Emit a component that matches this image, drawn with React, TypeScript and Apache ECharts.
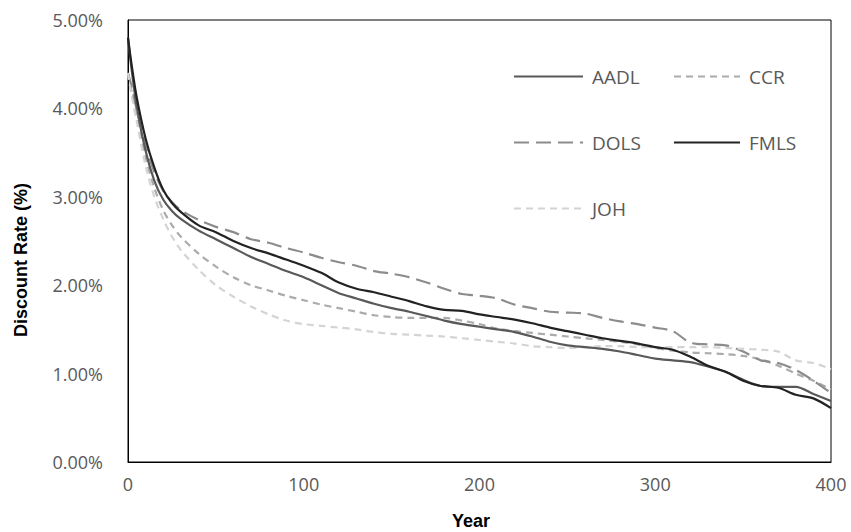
import React, { useEffect, useRef } from 'react';
import * as echarts from 'echarts';

const years = [0, 2, 5, 10, 15, 20, 25, 30, 40, 50, 60, 70, 80, 90, 100, 110, 120, 130, 140, 150, 160, 170, 180, 190, 200, 210, 220, 230, 240, 250, 260, 270, 280, 290, 300, 310, 320, 330, 340, 350, 360, 370, 380, 390, 400];

const aadl = [4.80, 4.45, 4.02, 3.52, 3.18, 2.97, 2.84, 2.75, 2.62, 2.52, 2.42, 2.32, 2.24, 2.16, 2.09, 2.00, 1.91, 1.85, 1.79, 1.74, 1.70, 1.65, 1.60, 1.56, 1.53, 1.50, 1.47, 1.42, 1.36, 1.32, 1.30, 1.28, 1.25, 1.21, 1.17, 1.15, 1.13, 1.08, 1.02, 0.93, 0.86, 0.85, 0.85, 0.77, 0.69];
const ccr = [4.40, 4.20, 3.90, 3.45, 3.10, 2.85, 2.68, 2.55, 2.36, 2.21, 2.09, 2.00, 1.94, 1.88, 1.83, 1.78, 1.74, 1.70, 1.66, 1.64, 1.63, 1.63, 1.63, 1.60, 1.56, 1.51, 1.48, 1.46, 1.44, 1.42, 1.40, 1.38, 1.36, 1.33, 1.29, 1.26, 1.24, 1.23, 1.22, 1.20, 1.16, 1.09, 1.00, 0.92, 0.82];
const dols = [4.40, 4.25, 3.98, 3.58, 3.28, 3.07, 2.94, 2.85, 2.74, 2.66, 2.60, 2.52, 2.48, 2.42, 2.37, 2.31, 2.26, 2.22, 2.16, 2.13, 2.09, 2.03, 1.96, 1.90, 1.88, 1.85, 1.78, 1.74, 1.70, 1.69, 1.68, 1.63, 1.59, 1.56, 1.52, 1.48, 1.35, 1.33, 1.32, 1.25, 1.15, 1.12, 1.04, 0.92, 0.78];
const fmls = [4.80, 4.50, 4.12, 3.66, 3.33, 3.08, 2.93, 2.83, 2.68, 2.60, 2.50, 2.42, 2.36, 2.29, 2.22, 2.14, 2.03, 1.96, 1.92, 1.87, 1.82, 1.76, 1.72, 1.71, 1.67, 1.64, 1.61, 1.57, 1.52, 1.48, 1.44, 1.40, 1.37, 1.34, 1.30, 1.27, 1.19, 1.09, 1.02, 0.92, 0.86, 0.84, 0.76, 0.72, 0.61];
const joh = [4.40, 4.15, 3.85, 3.35, 3.00, 2.75, 2.55, 2.40, 2.18, 2.00, 1.87, 1.76, 1.67, 1.60, 1.56, 1.54, 1.52, 1.50, 1.47, 1.45, 1.44, 1.43, 1.42, 1.40, 1.38, 1.36, 1.34, 1.31, 1.30, 1.29, 1.30, 1.31, 1.31, 1.30, 1.30, 1.30, 1.30, 1.30, 1.29, 1.28, 1.27, 1.25, 1.15, 1.12, 1.05];

const seriesNames = ['AADL', 'CCR', 'DOLS', 'FMLS', 'JOH'];
const seriesValues = [aadl, ccr, dols, fmls, joh];

const yTicks = [0, 1, 2, 3, 4, 5];
const xTicks = [0, 100, 200, 300, 400];

const styles: Record<string, { color: string; type: any }> = {
  AADL: { color: '#595959', type: 'solid' },
  CCR: { color: '#ababab', type: [7, 5] },
  DOLS: { color: '#8c8c8c', type: [15, 7] },
  FMLS: { color: '#222222', type: 'solid' },
  JOH: { color: '#d4d4d4', type: [7, 5] },
};

const legendPos: Record<string, { left: number; top: number; w: number }> = {
  AADL: { left: 513, top: 67, w: 69 },
  CCR: { left: 673, top: 67, w: 66 },
  DOLS: { left: 513, top: 133, w: 69 },
  FMLS: { left: 673, top: 133, w: 66 },
  JOH: { left: 513, top: 199, w: 69 },
};

const FONT = '"Open Sans", sans-serif';

export default function App() {
  const ref = useRef<HTMLDivElement>(null);
  useEffect(() => {
    const chart = echarts.init(ref.current!, null, { renderer: 'svg' });
    chart.setOption({
      animation: false,
      backgroundColor: '#ffffff',
      grid: {
        left: 128,
        right: 20,
        top: 20,
        bottom: 70,
        show: true,
        borderColor: '#000000',
        borderWidth: 1,
      },
      legend: seriesNames.map((n) => ({
        data: [n],
        left: legendPos[n].left,
        top: legendPos[n].top,
        padding: 0,
        itemWidth: legendPos[n].w,
        itemHeight: 16,
        itemStyle: { opacity: 0 },
        textStyle: { fontFamily: FONT, fontSize: 19, color: '#595959', padding: [0, 0, 0, 4] },
      })),
      xAxis: {
        type: 'value',
        min: 0,
        max: 400,
        interval: 100,
        splitLine: { show: false },
        axisTick: { show: false },
        axisLine: { show: true, lineStyle: { color: '#000', width: 1 } },
        axisLabel: {
          fontFamily: FONT,
          fontSize: 18,
          color: '#595959',
          margin: 13,
          formatter: (v: number) => (xTicks.includes(v) ? String(v) : ''),
        },
      },
      yAxis: {
        type: 'value',
        min: 0,
        max: 5,
        interval: 1,
        splitLine: { show: false },
        axisTick: { show: false },
        axisLine: { show: true, lineStyle: { color: '#000', width: 1 } },
        axisLabel: {
          fontFamily: FONT,
          fontSize: 18,
          color: '#595959',
          margin: 25,
          formatter: (v: number) => (yTicks.includes(v) ? v.toFixed(2) + '%' : ''),
        },
      },
      graphic: [
        {
          type: 'text',
          x: 21,
          y: 260,
          rotation: Math.PI / 2,
          style: {
            text: 'Discount Rate (%)',
            fontFamily: '"Liberation Sans", Arial, sans-serif',
            fontWeight: 'bold',
            fontSize: 18,
            fill: '#000000',
            align: 'center',
            verticalAlign: 'middle',
          },
        },
        {
          type: 'text',
          x: 471,
          y: 521,
          style: {
            text: 'Year',
            fontFamily: '"Liberation Sans", Arial, sans-serif',
            fontWeight: 'bold',
            fontSize: 18,
            fill: '#000000',
            align: 'center',
            verticalAlign: 'middle',
          },
        },
      ],
      series: seriesNames.map((n, i) => ({
        name: n,
        type: 'line',
        symbol: 'none',
        smooth: 0.3,
        data: years.map((y, j) => [y, seriesValues[i][j]]),
        lineStyle: { color: styles[n].color, type: styles[n].type, width: 2.2 },
        itemStyle: { color: styles[n].color },
        z: n === 'FMLS' ? 5 : n === 'AADL' ? 4 : 3,
      })),
    });
    return () => chart.dispose();
  }, []);
  return (
    <div
      ref={ref}
      style={{ position: 'absolute', left: 0, top: 0, width: 851, height: 532 }}
    />
  );
}
